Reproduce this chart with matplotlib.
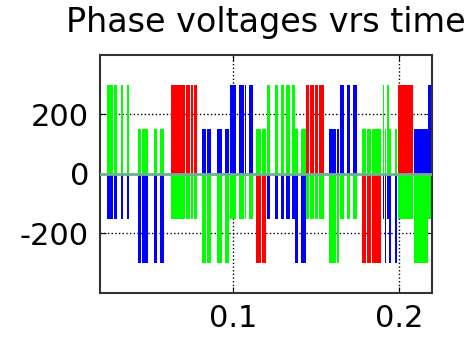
import numpy as np
import matplotlib
matplotlib.use("Agg")
import matplotlib.pyplot as plt

# switching intervals (time in s) and phase levels (V)
seg_t0 = [0.02397, 0.02606, 0.02815, 0.03246, 0.03604,
          0.04298, 0.04519, 0.04728, 0.05236, 0.05595,
          0.06270, 0.06599, 0.06898, 0.07197, 0.07495, 0.07687,
          0.08165, 0.08434, 0.09062, 0.09558,
          0.09809, 0.10359, 0.10705, 0.10992,
          0.11375, 0.11730,
          0.12032, 0.12528, 0.12887, 0.13228, 0.13574,
          0.13754, 0.14083,
          0.14411, 0.14650, 0.14949, 0.15188,
          0.15798, 0.16264,
          0.16432, 0.16874, 0.17268,
          0.17771, 0.18057, 0.18356, 0.18655,
          0.19026, 0.19163, 0.19283, 0.19402, 0.19779,
          0.19922, 0.20150, 0.20389, 0.20628,
          0.20915, 0.21166, 0.21405, 0.21644,
          0.21751]
seg_t1 = [0.02576, 0.02785, 0.03007, 0.03401, 0.03760,
          0.04489, 0.04698, 0.04895, 0.05433, 0.05834,
          0.06551, 0.06850, 0.07149, 0.07448, 0.07627, 0.07824,
          0.08404, 0.08661, 0.09360, 0.09797,
          0.10167, 0.10675, 0.10795, 0.11243,
          0.11700, 0.12020,
          0.12230, 0.12726, 0.13084, 0.13425, 0.13724,
          0.13903, 0.14381,
          0.14591, 0.14919, 0.15158, 0.15487,
          0.16234, 0.16414,
          0.16713, 0.17071, 0.17490,
          0.18028, 0.18326, 0.18625, 0.18924,
          0.19133, 0.19253, 0.19384, 0.19522, 0.19910,
          0.20120, 0.20359, 0.20598, 0.20837,
          0.21136, 0.21375, 0.21614, 0.21733,
          0.22250]
red_v = [-150, -150, -150, -150, -150,
         150, 150, 150, 150, 150,
         300, 300, 300, 300, 300, 300,
         150, 150, 150, 150,
         -150, -150, -150, -150,
         -300, -300,
         -150, -150, -150, -150, -150,
         150, 150,
         300, 300, 300, 300,
         150, 150,
         -150, -150, -150,
         -300, -300, -300, -300,
         -150, 150, -150, 150, 150,
         300, 300, 300, 300,
         150, 150, 150, 150,
         -150]
green_v = [300, 300, 300, 300, 300,
           150, 150, 150, 150, 150,
           -150, -150, -150, -150, -150, -150,
           -300, -300, -300, -300,
           -150, -150, -150, -150,
           150, 150,
           300, 300, 300, 300, 300,
           150, 150,
           -150, -150, -150, -150,
           -300, -300,
           -150, -150, -150,
           150, 150, 150, 150,
           300, 150, 300, 150, 150,
           -150, -150, -150, -150,
           -300, -300, -300, -300,
           -150]
blue_v = [-150, -150, -150, -150, -150,
          -300, -300, -300, -300, -300,
          -150, -150, -150, -150, -150, -150,
          150, 150, 150, 150,
          300, 300, 300, 300,
          150, 150,
          -150, -150, -150, -150, -150,
          -300, -300,
          -150, -150, -150, -150,
          150, 150,
          300, 300, 300,
          150, 150, 150, 150,
          -150, -300, -150, -300, -300,
          -150, -150, -150, -150,
          150, 150, 150, 150,
          300]


def steps(t0, t1, vals):
    t = [0.0]
    v = [0.0]
    for a, b, y in zip(t0, t1, vals):
        t += [a, b]
        v += [y, 0.0]
    return np.array(t), np.array(v)


plt.rcParams['font.family'] = ['DejaVu Sans']

fig = plt.figure(figsize=(4.72, 3.37), dpi=100)
ax = fig.add_axes([0.2119, 0.1306, 0.7034, 0.7062])

for vals, col in [(red_v, '#ff0000'), (blue_v, '#0000ff'), (green_v, '#00ff00')]:
    t, v = steps(seg_t0, seg_t1, vals)
    ax.fill_between(t, 0, v, step='post', color=col, lw=0)

ax.axhline(0, color='#6db38e', lw=2, zorder=5)

ax.set_xlim(0.02, 0.22)
ax.set_ylim(-400, 400)
ax.set_xticks([0.1, 0.2])
ax.set_xticklabels(['0.1', '0.2'])
ax.set_yticks([-200, 0, 200])
ax.set_yticklabels(['-200', '0', '200'])
ax.set_axisbelow(True)
ax.grid(True, color='black', ls=':', lw=1)
ax.tick_params(direction='in', top=True, right=True, length=4,
               labelsize=22, pad=8)
for s in ax.spines.values():
    s.set_linewidth(1.5)
    s.set_color('#333333')

ax.set_title('Phase voltages vrs time', fontsize=24, pad=16.5)

fig.savefig('out.png', dpi=100)
